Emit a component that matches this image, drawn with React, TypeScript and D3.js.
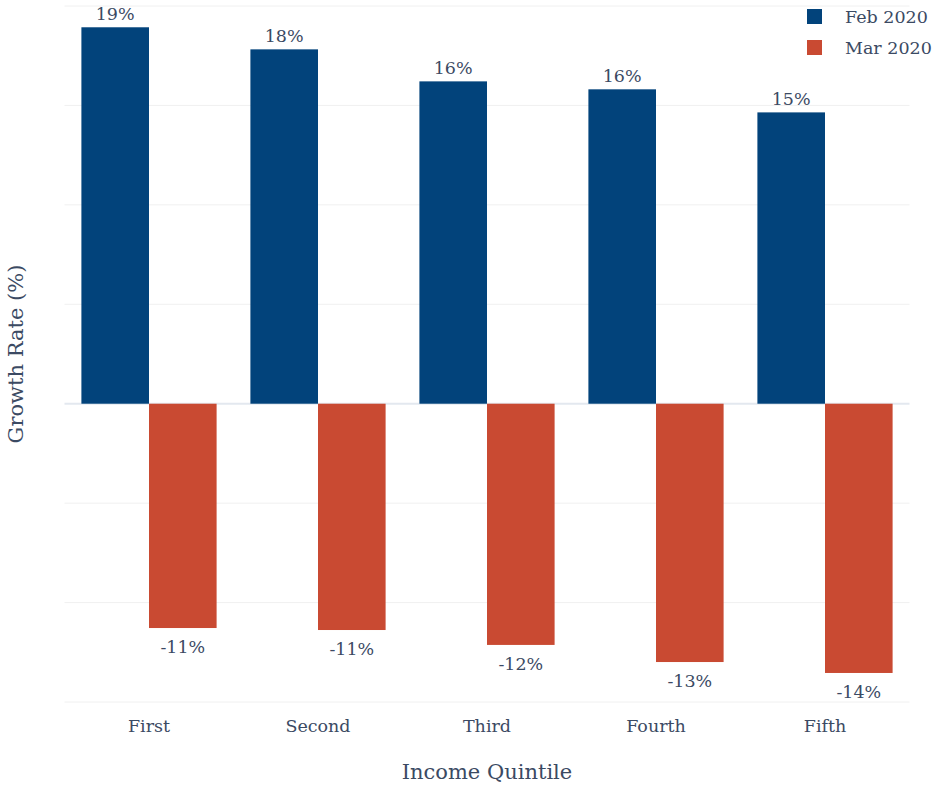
import React from "react";
import * as d3 from "d3";

const quintiles = ["First", "Second", "Third", "Fourth", "Fifth"];
const seriesNames = ["Feb 2020", "Mar 2020"];
const feb2020 = [18.93, 17.82, 16.21, 15.81, 14.65];
const mar2020 = [-11.28, -11.38, -12.13, -12.99, -13.54];
const gridTicks = [-15, -10, -5, 0, 5, 10, 15, 20];

const WIDTH = 933;
const HEIGHT = 786;
const COLORS = ["#02437b", "#c94a32"];
const TEXT = "#3b4a63";
const FONT = "'DejaVu Serif', serif";

// Plain hyphen for negatives in the value labels
const locale = d3.formatLocale({
  decimal: ".",
  thousands: ",",
  grouping: [3],
  currency: ["", ""],
  minus: "-",
});
const fmtInt = locale.format(".0f");

export default function App() {
  const x = d3.scaleBand<string>().domain(quintiles).range([64.5, 909.5]).paddingInner(0.2).paddingOuter(0.1);
  const xSeries = d3.scaleBand<string>().domain(seriesNames).range([0, x.bandwidth()]);
  const y = d3.scaleLinear().domain([-15, 20]).range([702, 6]);
  const fmt = (v: number) => `${fmtInt(v)}%`;
  const series = [feb2020, mar2020];

  return (
    <svg
      width={WIDTH}
      height={HEIGHT}
      style={{ position: "absolute", left: 0, top: 0, background: "#fff" }}
      fontFamily={FONT}
    >
      {gridTicks.map((t) => (
        <line
          key={t}
          x1={64.5}
          x2={909.5}
          y1={y(t)}
          y2={y(t)}
          stroke={t === 0 ? "#e3e8ef" : "#f0f0f0"}
          strokeWidth={t === 0 ? 2 : 1}
        />
      ))}
      {series.map((vals, si) =>
        vals.map((v, i) => {
          const q = quintiles[i];
          const bx = (x(q) ?? 0) + (xSeries(seriesNames[si]) ?? 0);
          const bw = xSeries.bandwidth();
          const top = y(Math.max(0, v));
          const h = Math.abs(y(v) - y(0));
          return (
            <g key={`${si}-${i}`}>
              <rect x={bx} y={top} width={bw} height={h} fill={COLORS[si]} />
              <text
                x={bx + bw / 2}
                y={v >= 0 ? y(v) - 7 : y(v) + 25}
                textAnchor="middle"
                fontSize={17.5}
                fill={TEXT}
              >
                {fmt(v)}
              </text>
            </g>
          );
        })
      )}
      {quintiles.map((q) => (
        <text
          key={q}
          x={(x(q) ?? 0) + x.bandwidth() / 2}
          y={732}
          textAnchor="middle"
          fontSize={17.5}
          fill={TEXT}
        >
          {q}
        </text>
      ))}
      <text x={487} y={779} textAnchor="middle" fontSize={21} fill={TEXT}>
        Income Quintile
      </text>
      <text
        transform={`translate(23, ${y(2.5)}) rotate(-90)`}
        textAnchor="middle"
        fontSize={21}
        fill={TEXT}
      >
        Growth Rate (%)
      </text>
      {seriesNames.map((name, i) => (
        <g key={name} transform={`translate(807, ${9 + i * 31})`}>
          <rect x={0} y={0} width={15} height={15} fill={COLORS[i]} />
          <text x={38} y={13.5} fontSize={17.5} fill={TEXT}>
            {name}
          </text>
        </g>
      ))}
    </svg>
  );
}
